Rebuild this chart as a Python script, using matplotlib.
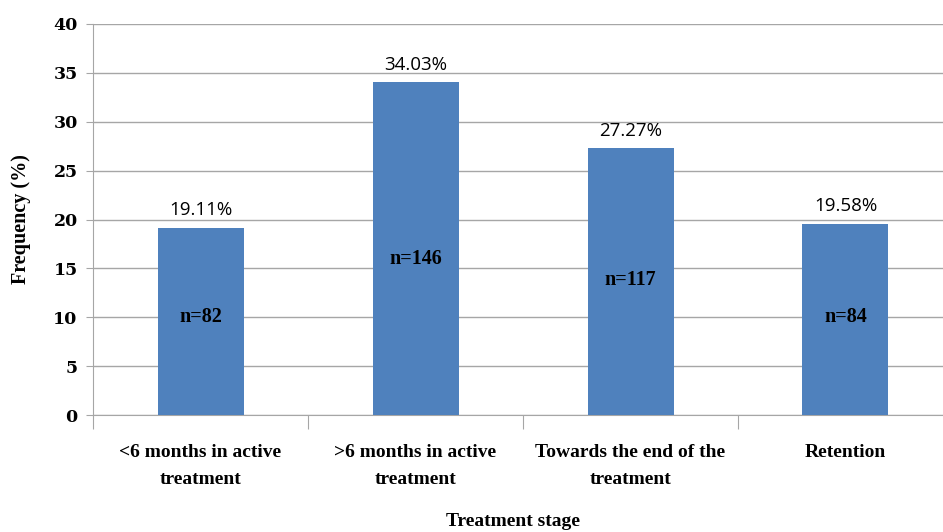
import matplotlib.pyplot as plt

# datos del grafico
stages = ["<6 months in active\ntreatment", ">6 months in active\ntreatment",
          "Towards the end of the\ntreatment", "Retention"]
freq = [19.11, 34.03, 27.27, 19.58]
counts = [82, 146, 117, 84]
n_label_y = [10, 16, 13.8, 10]

W, H = 943, 532
fig = plt.figure(figsize=(W / 100, H / 100), dpi=100)
ax = fig.add_axes([93 / W, 1 - 415 / H, 860 / W, (415 - 24) / H])

x = list(range(len(stages)))
ax.bar(x, freq, width=0.4, color="#4f81bd", zorder=3)

ax.set_xlim(-0.5, 3.5)
ax.set_ylim(0, 40)
ax.set_yticks(range(0, 41, 5))
ax.yaxis.grid(True, color="#a6a6a6", linewidth=1, zorder=0)

for s in ["top", "right"]:
    ax.spines[s].set_visible(False)
ax.spines["left"].set_color("#a6a6a6")
ax.spines["bottom"].set_color("#a6a6a6")

# ticks de categoria en los bordes
ax.set_xticks([i - 0.5 for i in range(len(stages) + 1)], minor=False)
ax.set_xticklabels([])
ax.tick_params(axis="x", length=10, color="#a6a6a6")
ax.set_xticks(x, minor=True)
ax.set_xticklabels(stages, minor=True, fontfamily="Liberation Serif",
                   fontweight="bold", fontsize=14, linespacing=1.75)
ax.tick_params(axis="x", which="minor", length=0, pad=21)
ax.tick_params(axis="y", length=5, color="#a6a6a6", pad=6)
for lab in ax.get_yticklabels():
    lab.set_fontfamily("DejaVu Serif")
    lab.set_fontweight("bold")
    lab.set_fontsize(12.5)

for xi, v, n, ny in zip(x, freq, counts, n_label_y):
    ax.text(xi, v + 0.9, f"{v:.2f}%", ha="center", va="bottom",
            fontfamily="Open Sans", fontsize=13.5)
    ax.text(xi, ny, f"n={n}", ha="center", va="center",
            fontfamily="Liberation Serif", fontweight="bold", fontsize=14.5)

ax.set_ylabel("Frequency (%)", fontfamily="Liberation Serif",
              fontweight="bold", fontsize=14.5, labelpad=16)
fig.text(513 / W, 1 - 521 / H, "Treatment stage", ha="center", va="center",
         fontfamily="Liberation Serif", fontweight="bold", fontsize=14)

fig.savefig("out.png", dpi=100)
